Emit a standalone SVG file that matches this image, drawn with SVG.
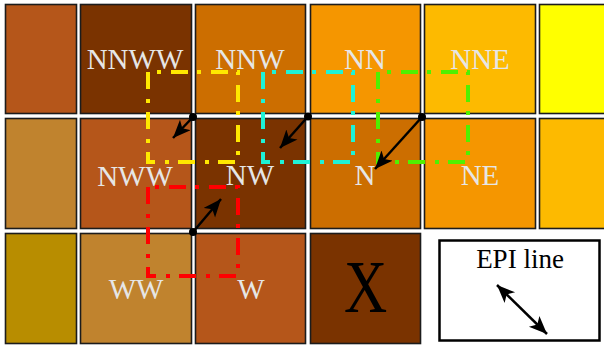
<svg xmlns="http://www.w3.org/2000/svg" width="604" height="347" viewBox="0 0 604 347">
<style>
.cell{stroke:#1c1c1c;stroke-width:1.6}
.lbl{font-family:"Liberation Serif","Times New Roman",serif;font-size:29px;fill:#E6E6E6;text-anchor:middle}
.win{fill:none;stroke-width:4;stroke-dasharray:17 10 4 9}
.arr{stroke:#000;stroke-width:2.5;fill:none}
</style>
<defs>
<marker id="ah" markerUnits="userSpaceOnUse" markerWidth="20" markerHeight="16" refX="18" refY="7.5" orient="auto-start-reverse" viewBox="0 0 20 16">
<path d="M0,0 L18,7.5 L0,15 L4.5,7.5 Z" fill="#000"/>
</marker>
</defs>
<rect width="604" height="347" fill="#fff"/>
<g id="cells">
<g id="r1c1"><rect class="cell" x="5.5" y="4.5" width="71" height="109" fill="#B5561A"/></g>
<g id="NNWW"><rect class="cell" x="80.5" y="4.5" width="111" height="109" fill="#7A3300"/><text class="lbl" x="135" y="69">NNWW</text></g>
<g id="NNW"><rect class="cell" x="195.5" y="4.5" width="110" height="109" fill="#CC6E00"/><text class="lbl" x="250" y="69">NNW</text></g>
<g id="NN"><rect class="cell" x="310.5" y="4.5" width="110" height="109" fill="#F59600"/><text class="lbl" x="365" y="69">NN</text></g>
<g id="NNE"><rect class="cell" x="424.5" y="4.5" width="111" height="109" fill="#FDBA00"/><text class="lbl" x="480" y="69">NNE</text></g>
<g id="r1c6"><rect class="cell" x="539.5" y="4.5" width="80" height="109" fill="#FFFF00"/></g>

<g id="r2c1"><rect class="cell" x="5.5" y="118.5" width="71" height="110" fill="#C0832E"/></g>
<g id="NWW"><rect class="cell" x="80.5" y="118.5" width="111" height="110" fill="#B5561A"/><text class="lbl" x="135" y="186">NWW</text></g>
<g id="NW"><rect class="cell" x="195.5" y="118.5" width="110" height="110" fill="#7A3300"/><text class="lbl" x="250" y="185">NW</text></g>
<g id="N"><rect class="cell" x="310.5" y="118.5" width="110" height="110" fill="#CC6E00"/><text class="lbl" x="365" y="185">N</text></g>
<g id="NE"><rect class="cell" x="424.5" y="118.5" width="111" height="110" fill="#F59600"/><text class="lbl" x="480" y="185">NE</text></g>
<g id="r2c6"><rect class="cell" x="539.5" y="118.5" width="80" height="110" fill="#FDBA00"/></g>

<g id="r3c1"><rect class="cell" x="5.5" y="233.5" width="71" height="110" fill="#B88D00"/></g>
<g id="WW"><rect class="cell" x="80.5" y="233.5" width="111" height="110" fill="#C0832E"/><text class="lbl" x="136" y="299">WW</text></g>
<g id="W"><rect class="cell" x="195.5" y="233.5" width="110" height="110" fill="#B5561A"/><text class="lbl" x="251" y="299">W</text></g>
<g id="X"><rect class="cell" x="310.5" y="233.5" width="110" height="110" fill="#7A3300"/><text x="0" y="0" transform="translate(365.5,312) scale(0.82,1)" font-family="Liberation Serif,Times New Roman,serif" font-size="73" fill="#000" text-anchor="middle">X</text></g>
</g>
<g id="windows">
<path class="win" stroke="#FFE800" d="M148,72 V162 H238 V72 Z"/>
<path class="win" stroke="#1EF2D6" d="M263,72 V162 H353 V72 Z"/>
<path class="win" stroke="#50F000" d="M378,72 V162 H468 V72 Z"/>
<path class="win" stroke="#FF0000" d="M148,187 V276 H238 V187 Z"/>
</g>
<g id="connectors">
<line class="arr" x1="193" y1="117" x2="173" y2="138" marker-end="url(#ah)"/>
<circle cx="193" cy="117" r="4" fill="#000"/>
<line class="arr" x1="308" y1="116.5" x2="280" y2="148" marker-end="url(#ah)"/>
<circle cx="308" cy="116.5" r="4" fill="#000"/>
<line class="arr" x1="422" y1="117" x2="375" y2="169" marker-end="url(#ah)"/>
<circle cx="422" cy="117" r="4" fill="#000"/>
<line class="arr" x1="193" y1="232" x2="221" y2="199" marker-end="url(#ah)"/>
<circle cx="193" cy="232" r="4" fill="#000"/>
</g>
<g id="legend">
<rect x="439.5" y="240.5" width="160" height="100" fill="#fff" stroke="#000" stroke-width="2.5"/>
<text x="520" y="268" font-family="Liberation Serif,Times New Roman,serif" font-size="27" fill="#000" text-anchor="middle">EPI line</text>
<line class="arr" x1="497" y1="285" x2="547" y2="334" marker-start="url(#ah)" marker-end="url(#ah)"/>
</g>
</svg>
